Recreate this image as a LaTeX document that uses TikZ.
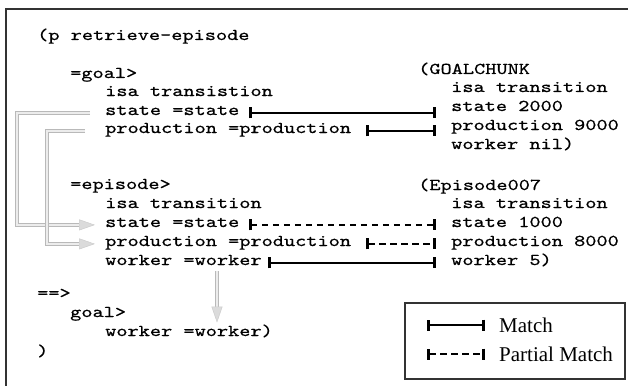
\documentclass[tikz,border=0pt]{standalone}
\usepackage{fontspec}
\newfontfamily\codefont{lmmono10-regular}[Extension=.otf,FakeStretch=1.29,FakeBold=0.6]
\newfontfamily\legfont{Liberation Serif}
\usetikzlibrary{positioning,calc,arrows.meta}

\tikzset{
  code/.style={anchor=base west, inner sep=0pt, text height=0.62em, text depth=0.2em,
    font=\codefont\fontsize{16.5}{19}\selectfont},
  legtext/.style={anchor=west, inner sep=0pt, font=\legfont\fontsize{21}{24}\selectfont},
  frame/.style={draw=black!80, line width=1.3pt},
  match/.style={line width=2.1pt, {Bar[width=11pt,line width=3pt]}-{Bar[width=11pt,line width=3pt]}},
  partial/.style={match, dash pattern=on 6.5pt off 4.5pt},
  feed/.style={draw=gray!55, line width=1pt, double=gray!15, double distance=1.6pt,
    -{Triangle[length=16pt,width=11pt,fill=gray!28,color=gray!40,line width=0.5pt]}},
}

\begin{document}
\begin{tikzpicture}[x=1pt,y=-1pt]

\def\colA{37}
\def\colB{70}
\def\colC{105}
\def\colR{418}
\def\colS{451}

\useasboundingbox (0,0) rectangle (628,385);
\draw[frame] (6,392) |- (630,9);

% production
\node[code] (head) at (\colA,40) {(p retrieve-episode};
\node[code] (goal) at (\colB,78) {=goal>};
\node[code] (gisa) at (\colC,96) {isa transistion};
\node[code] (gstate) at (\colC,115) {state =state};
\node[code] (gprod) at (\colC,133) {production =production};
\node[code] (epi) at (\colB,189) {=episode>};
\node[code] (eisa) at (\colC,208) {isa transition};
\node[code] (estate) at (\colC,227) {state =state};
\node[code] (eprod) at (\colC,246) {production =production};
\node[code] (ework) at (\colC,265) {worker =worker};
\node[code] (then) at (\colA,298) {==>};
\node[code] (rgoal) at (\colB,317) {goal>};
\node[code] (rwork) at (\colC,336) {worker =worker)};
\node[code] (close) at (\colA,356) {)};

% chunks
\node[code] (chunk) at (\colR,74) {(GOALCHUNK};
\node[code] (cisa) at (\colS,92) {isa transition};
\node[code] (cstate) at (\colS,111) {state 2000};
\node[code] (cprod) at (\colS,130) {production 9000};
\node[code] (cwork) at (\colS,149) {worker nil)};
\node[code] (ep) at (\colR,190) {(Episode007};
\node[code] (episa) at (\colS,208) {isa transition};
\node[code] (epstate) at (\colS,227) {state 1000};
\node[code] (epprod) at (\colS,246) {production 8000};
\node[code] (epwork) at (\colS,265) {worker 5)};

\coordinate (bar) at (436,0);
\coordinate (lane1) at (17,0);
\coordinate (lane2) at (47,0);
\coordinate (drop) at (217,0);

\draw[match] ([xshift=9pt]gstate.east) -- (gstate.east -| bar);
\draw[match] ([xshift=15pt]gprod.east) -- (gprod.east -| bar);
\draw[partial] ([xshift=9pt]estate.east) -- (estate.east -| bar);
\draw[partial] ([xshift=15pt]eprod.east) -- (eprod.east -| bar);
\draw[match] ([xshift=6pt]ework.east) -- (ework.east -| bar);

\draw[feed] ([xshift=-15pt]gstate.west) -- (gstate.west -| lane1)
  -- (estate.west -| lane1) -- ([xshift=-10pt]estate.west);
\draw[feed] ([xshift=-20pt]gprod.west) -- (gprod.west -| lane2)
  -- (eprod.west -| lane2) -- ([xshift=-10pt]eprod.west);
\draw[feed] ($(ework.south -| drop)+(0,4)$) -- ($(rwork.north -| drop)+(0,-7)$);

% legend
\draw[frame] (405,303) rectangle (625,379);
\node[legtext] (lmatch) at (499,325) {Match};
\node[legtext] (lpart) at (499,354) {Partial Match};
\draw[match] ([xshift=-72pt]lmatch.west) -- ([xshift=-14pt]lmatch.west);
\draw[partial] ([xshift=-72pt]lpart.west) -- ([xshift=-14pt]lpart.west);

\end{tikzpicture}
\end{document}
